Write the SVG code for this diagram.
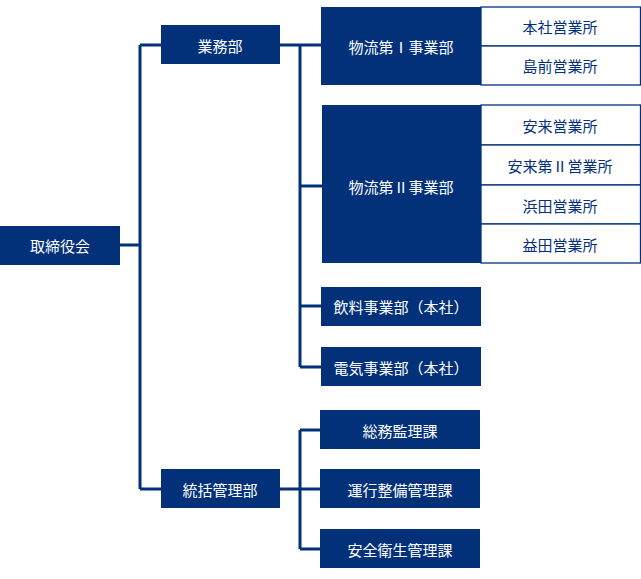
<svg xmlns="http://www.w3.org/2000/svg" width="641" height="579" viewBox="0 0 641 579">
<style>
.b{fill:#02317a}
.c{fill:#fff;stroke:#02317a;stroke-width:1.3}
text{font-family:"Noto Sans CJK JP",sans-serif;font-size:15px;text-anchor:middle;dominant-baseline:central}
.w{fill:#fff}.n{fill:#02317a}
.l{fill:none;stroke:#02317a;stroke-width:3}
</style>
<rect width="641" height="579" fill="#fff"/>
<g id="connectors">
<path class="l" d="M120 245H140M140 45V489M140 45H161M140 489H161M280 45H321M300 45V367M300 186H322M300 306H321M300 367H321M280 489H320M300 430V549M300 430H320M300 549H320"/>
</g>
<g id="n1"><rect class="b" x="0" y="226" width="120" height="39"/><text class="w" x="60" y="245">取締役会</text></g>
<g id="n2"><rect class="b" x="161" y="25" width="119" height="39"/><text class="w" x="220" y="45">業務部</text></g>
<g id="n3"><rect class="b" x="161" y="469" width="119" height="39"/><text class="w" x="220" y="489">統括管理部</text></g>
<g id="n4"><rect class="b" x="321" y="7" width="160" height="78"/><text class="w" x="401" y="46">物流第Ⅰ事業部</text></g>
<g id="n5"><rect class="c" x="481" y="7" width="159.5" height="39"/><text class="n" x="560" y="26">本社営業所</text></g>
<g id="n6"><rect class="c" x="481" y="46" width="159.5" height="39"/><text class="n" x="560" y="65">島前営業所</text></g>
<g id="n7"><rect class="b" x="322" y="105" width="159" height="158"/><text class="w" x="401" y="186">物流第Ⅱ事業部</text></g>
<g id="n8"><rect class="c" x="481" y="105" width="159.5" height="40"/><text class="n" x="560" y="125">安来営業所</text></g>
<g id="n9"><rect class="c" x="481" y="145" width="159.5" height="40"/><text class="n" x="560" y="165">安来第Ⅱ営業所</text></g>
<g id="n10"><rect class="c" x="481" y="185" width="159.5" height="39"/><text class="n" x="560" y="205">浜田営業所</text></g>
<g id="n11"><rect class="c" x="481" y="224" width="159.5" height="39"/><text class="n" x="560" y="244">益田営業所</text></g>
<g id="n12"><rect class="b" x="321" y="287" width="160" height="39"/><text class="w" x="401" y="306">飲料事業部（本社）</text></g>
<g id="n13"><rect class="b" x="321" y="347" width="160" height="39"/><text class="w" x="401" y="367">電気事業部（本社）</text></g>
<g id="n14"><rect class="b" x="320" y="410" width="160" height="39"/><text class="w" x="400" y="430">総務監理課</text></g>
<g id="n15"><rect class="b" x="320" y="469" width="160" height="39"/><text class="w" x="400" y="489">運行整備管理課</text></g>
<g id="n16"><rect class="b" x="320" y="529" width="160" height="39"/><text class="w" x="400" y="549">安全衛生管理課</text></g>
</svg>
